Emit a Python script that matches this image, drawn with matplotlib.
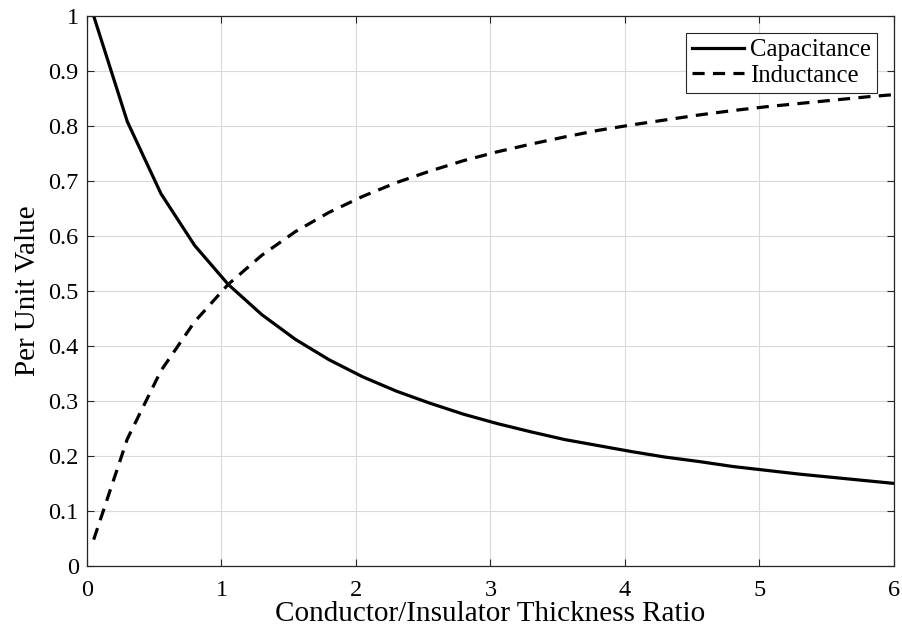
import matplotlib.pyplot as plt
from matplotlib.ticker import FuncFormatter

# thickness ratio sample points
ratio = [0.05, 0.30, 0.55, 0.80, 1.05, 1.30, 1.55, 1.80, 2.05, 2.30, 2.55, 2.80,
         3.05, 3.30, 3.55, 3.80, 4.05, 4.30, 4.55, 4.80, 5.05, 5.30, 5.55, 5.80, 6.05]
capacitance = [1.000, 0.808, 0.677, 0.583, 0.512, 0.457, 0.412, 0.375, 0.344, 0.318,
               0.296, 0.276, 0.259, 0.244, 0.230, 0.219, 0.208, 0.198, 0.190, 0.181,
               0.174, 0.167, 0.161, 0.155, 0.149]
inductance = [0.048, 0.231, 0.355, 0.444, 0.512, 0.565, 0.608, 0.643, 0.672, 0.697,
              0.718, 0.737, 0.753, 0.767, 0.780, 0.792, 0.802, 0.811, 0.820, 0.828,
              0.835, 0.841, 0.847, 0.853, 0.858]
x_ticks = [0, 1, 2, 3, 4, 5, 6]
y_ticks = [0, 0.1, 0.2, 0.3, 0.4, 0.5, 0.6, 0.7, 0.8, 0.9, 1.0]

plt.rcParams["font.family"] = ["Liberation Serif", "DejaVu Serif"]

fig = plt.figure(figsize=(9.03, 6.39), dpi=100)
ax = fig.add_axes([0.0963, 0.1142, 0.8937, 0.8608])

ax.plot(ratio, capacitance, "-", color="black", lw=2.3, label="Capacitance")
ax.plot(ratio, inductance, color="black", lw=2.3, linestyle=(0, (3.8, 2.6)),
        label="Inductance")

ax.set_xlim(0, 6)
ax.set_ylim(0, 1)
ax.set_xticks(x_ticks)
ax.set_yticks(y_ticks)
ax.yaxis.set_major_formatter(FuncFormatter(lambda v, p: f"{v:g}"))
ax.tick_params(direction="in", top=True, right=True, length=5, width=0.8,
               labelsize=17.5, colors="#262626", labelcolor="black")
ax.tick_params(axis="x", pad=10)
ax.tick_params(axis="y", pad=6)
ax.grid(True, color="#d9d9d9", lw=0.8)
for s in ax.spines.values():
    s.set_color("#262626")
    s.set_linewidth(0.9)

ax.set_xlabel("Conductor/Insulator Thickness Ratio", fontsize=21, labelpad=0)
ax.set_ylabel("Per Unit Value", fontsize=21, labelpad=5)

leg = ax.legend(loc="upper right", fontsize=17.8, handlelength=2.1,
                handletextpad=0.25, borderpad=0.25, labelspacing=0.12,
                borderaxespad=0.68, fancybox=False, framealpha=1)
leg.get_frame().set_edgecolor("#262626")
leg.get_frame().set_linewidth(0.8)

fig.savefig("out.png", dpi=100)
